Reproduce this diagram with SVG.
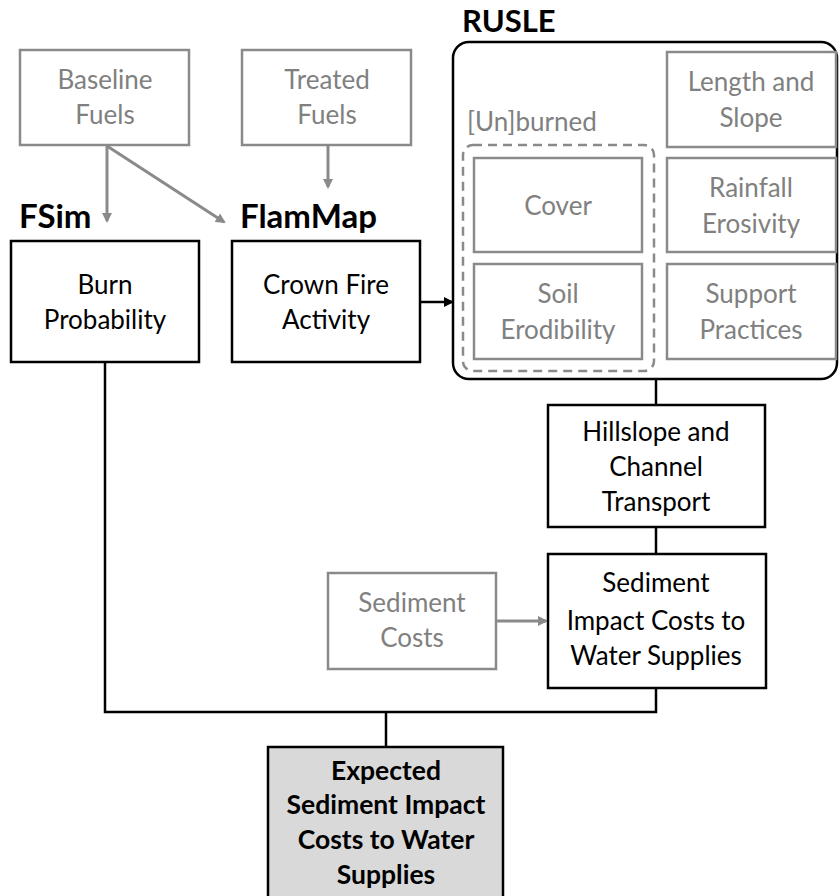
<svg xmlns="http://www.w3.org/2000/svg" width="839" height="896" viewBox="0 0 839 896">
<style>
text{font-family:Lato,"Open Sans","Liberation Sans",sans-serif;font-size:26px;text-anchor:middle}
.g{fill:#808080}
.k{fill:#000}
.b{font-weight:bold;font-size:26.5px}
.lab{font-weight:bold;font-size:33px;text-anchor:start;fill:#000}
.gbox{fill:#fff;stroke:#8a8a8a;stroke-width:2.5}
.kbox{fill:#fff;stroke:#000;stroke-width:2.5}
.kline{fill:none;stroke:#000;stroke-width:2.5}
.gline{fill:none;stroke:#8a8a8a;stroke-width:3}
</style>
<defs>
<marker id="ag" markerWidth="10" markerHeight="10" refX="8" refY="5" orient="auto" markerUnits="userSpaceOnUse"><path d="M0,0 L10,5 L0,10 Z" fill="#8a8a8a"/></marker>
<marker id="ak" markerWidth="10" markerHeight="10" refX="8" refY="5" orient="auto" markerUnits="userSpaceOnUse"><path d="M0,0 L10,5 L0,10 Z" fill="#000"/></marker>
</defs>
<rect width="839" height="896" fill="#fff"/>
<g id="labels">
<text class="lab" x="19" y="228">FSim</text>
<text class="lab" x="240" y="228">FlamMap</text>
<text class="lab" x="462" y="32" style="font-size:31px">RUSLE</text>
</g>
<g id="connectors">
<line class="gline" x1="107" y1="146" x2="107" y2="221" marker-end="url(#ag)"/>
<line class="gline" x1="107" y1="146" x2="224" y2="222" marker-end="url(#ag)"/>
<line class="gline" x1="328" y1="146" x2="328" y2="187" marker-end="url(#ag)"/>
<line class="kline" x1="421" y1="302" x2="452" y2="302" marker-end="url(#ak)"/>
<line class="kline" x1="656" y1="379" x2="656" y2="405"/>
<line class="kline" x1="656" y1="527" x2="656" y2="554"/>
<line class="gline" x1="497" y1="621" x2="546" y2="621" marker-end="url(#ag)"/>
<polyline class="kline" points="105,362 105,712 656,712 656,688"/>
<line class="kline" x1="386" y1="712" x2="386" y2="747"/>
</g>
<g id="baseline-fuels">
<rect class="gbox" x="20" y="50" width="169" height="95"/>
<text class="g" x="105" y="89">Baseline</text>
<text class="g" x="105" y="124">Fuels</text>
</g>
<g id="treated-fuels">
<rect class="gbox" x="242" y="50" width="169" height="95"/>
<text class="g" x="327" y="89">Treated</text>
<text class="g" x="327" y="124">Fuels</text>
</g>
<g id="burn-probability">
<rect class="kbox" x="11" y="241" width="188" height="121"/>
<text class="k" x="105" y="294">Burn</text>
<text class="k" x="105" y="329">Probability</text>
</g>
<g id="crown-fire">
<rect class="kbox" x="232" y="241" width="188" height="121"/>
<text class="k" x="326" y="294">Crown Fire</text>
<text class="k" x="326" y="329">Activity</text>
</g>
<g id="rusle">
<rect class="kbox" x="453" y="42" width="384" height="337" rx="16"/>
<text class="g" x="467" y="131" style="text-anchor:start">[Un]burned</text>
<rect x="463" y="145" width="191" height="226" rx="10" fill="none" stroke="#8a8a8a" stroke-width="2.5" stroke-dasharray="9,6"/>
</g>
<g id="length-slope">
<rect class="gbox" x="667" y="52" width="169" height="95"/>
<text class="g" x="751" y="91">Length and</text>
<text class="g" x="751" y="127">Slope</text>
</g>
<g id="rainfall">
<rect class="gbox" x="667" y="158" width="169" height="94"/>
<text class="g" x="751" y="197">Rainfall</text>
<text class="g" x="751" y="233">Erosivity</text>
</g>
<g id="support">
<rect class="gbox" x="667" y="264" width="169" height="95"/>
<text class="g" x="751" y="303">Support</text>
<text class="g" x="751" y="339">Practices</text>
</g>
<g id="cover">
<rect class="gbox" x="474" y="158" width="168" height="94"/>
<text class="g" x="558" y="215">Cover</text>
</g>
<g id="soil">
<rect class="gbox" x="474" y="264" width="168" height="95"/>
<text class="g" x="558" y="303">Soil</text>
<text class="g" x="558" y="339">Erodibility</text>
</g>
<g id="hillslope">
<rect class="kbox" x="548" y="405" width="217" height="122"/>
<text class="k" x="656" y="441">Hillslope and</text>
<text class="k" x="656" y="476">Channel</text>
<text class="k" x="656" y="511">Transport</text>
</g>
<g id="sediment-impact">
<rect class="kbox" x="548" y="554" width="218" height="134"/>
<text class="k" x="656" y="592">Sediment</text>
<text class="k" x="656" y="630">Impact Costs to</text>
<text class="k" x="656" y="665">Water Supplies</text>
</g>
<g id="sediment-costs">
<rect class="gbox" x="328" y="573" width="168" height="96"/>
<text class="g" x="412" y="612">Sediment</text>
<text class="g" x="412" y="647">Costs</text>
</g>
<g id="expected">
<rect x="268" y="747" width="235" height="160" fill="#d9d9d9" stroke="#000" stroke-width="2.5"/>
<text class="k b" x="386" y="780">Expected</text>
<text class="k b" x="386" y="814">Sediment Impact</text>
<text class="k b" x="386" y="849">Costs to Water</text>
<text class="k b" x="386" y="884">Supplies</text>
</g>
</svg>
